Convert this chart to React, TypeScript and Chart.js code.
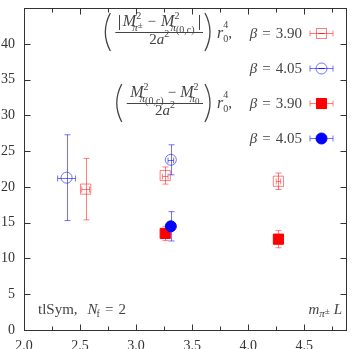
import React, { useEffect, useRef } from "react";
import { Chart, registerables } from "chart.js";
Chart.register(...registerables);

// ---- data ----
const X_MIN = 2.0;
const X_MAX = 4.88;
const Y_MIN = 0;
const Y_MAX = 45;
const xTickValues = [2.0, 2.5, 3.0, 3.5, 4.0, 4.5];
const xMinorValues = [2.25, 2.75, 3.25, 3.75, 4.25, 4.75];
const yTickValues = [0, 5, 10, 15, 20, 25, 30, 35, 40];

// charged - neutral (0,c), beta = 3.90
const chg390X = [2.55, 3.26, 4.27];
const chg390Y = [19.7, 21.6, 20.8];
const chg390YErr = [4.3, 1.2, 1.15];
const chg390XErr = [0.035, 0.025, 0.02];
// beta = 4.05
const chg405X = [2.38, 3.31];
const chg405Y = [21.3, 23.8];
const chg405YErr = [6.0, 2.1];
const chg405XErr = [0.08, 0.025];
// (0,c) - pi0, beta = 3.90
const neu390X = [3.26, 4.27];
const neu390Y = [13.5, 12.7];
const neu390YErr = [1.0, 1.2];
const neu390XErr = [0.02, 0.02];
// beta = 4.05
const neu405X = [3.31];
const neu405Y = [14.5];
const neu405YErr = [2.05];
const neu405XErr = [0.02];

const legendBetas = ["3.90", "4.05", "3.90", "4.05"];

// ---- styles ----
const SERIF = "'Liberation Serif','Times New Roman',serif";
const TEXT = "#333333";
const LEG = "#444444";
const RED = "#ff0000";
const RED_L = "rgba(255,0,0,0.5)";
const BLUE = "#0000ff";
const BLUE_L = "rgba(0,0,255,0.55)";

type Series = {
  x: number[]; y: number[]; xe: number[]; ye: number[];
  shape: "rect" | "circle"; filled: boolean; color: string; bar: string;
};
const series: Series[] = [
  { x: chg390X, y: chg390Y, xe: chg390XErr, ye: chg390YErr, shape: "rect", filled: false, color: RED_L, bar: RED_L },
  { x: chg405X, y: chg405Y, xe: chg405XErr, ye: chg405YErr, shape: "circle", filled: false, color: BLUE_L, bar: BLUE_L },
  { x: neu390X, y: neu390Y, xe: neu390XErr, ye: neu390YErr, shape: "rect", filled: true, color: RED, bar: RED_L },
  { x: neu405X, y: neu405Y, xe: neu405XErr, ye: neu405YErr, shape: "circle", filled: true, color: BLUE, bar: BLUE_L },
];

function font(size: number, italic = false) {
  return `${italic ? "italic " : ""}${size}px ${SERIF}`;
}

type SubRun = [string, number, boolean, number];

class Pen {
  ctx: CanvasRenderingContext2D; x: number; base: number; draw: boolean;
  constructor(ctx: CanvasRenderingContext2D, x: number, base: number, draw: boolean) {
    this.ctx = ctx; this.x = x; this.base = base; this.draw = draw;
  }
  text(t: string, size: number, italic = false, dy = 0) {
    this.ctx.font = font(size, italic);
    if (this.draw) this.ctx.fillText(t, this.x, this.base + dy);
    this.x += this.ctx.measureText(t).width;
    return this;
  }
  gap(g: number) { this.x += g; return this; }
  scr(sup: [string, number] | null, sub: SubRun[] | null, supDy = -7, subDy = 5, subShift = 0) {
    const x0 = this.x;
    let supEnd = x0, subEnd = x0;
    if (sup) {
      this.ctx.font = font(sup[1]);
      if (this.draw) this.ctx.fillText(sup[0], x0, this.base + supDy);
      supEnd = x0 + this.ctx.measureText(sup[0]).width;
    }
    if (sub) {
      let sx = x0 + subShift;
      for (const [t, s, it, dy] of sub) {
        this.ctx.font = font(s, it);
        if (this.draw) this.ctx.fillText(t, sx, this.base + subDy + dy);
        sx += this.ctx.measureText(t).width;
      }
      subEnd = sx;
    }
    this.x = Math.max(supEnd, subEnd);
    return this;
  }
  bar(top: number, bottom: number) {
    if (this.draw) {
      const c = this.ctx;
      c.beginPath();
      c.moveTo(Math.round(this.x) + 0.5, this.base + top);
      c.lineTo(Math.round(this.x) + 0.5, this.base + bottom);
      c.stroke();
    }
    this.x += 1;
    return this;
  }
}

function measureWith(ctx: CanvasRenderingContext2D, fn: (p: Pen) => void) {
  const p = new Pen(ctx, 0, 0, false);
  fn(p);
  return p.x;
}

function leftParen(ctx: CanvasRenderingContext2D, x: number, cy: number, h: number) {
  ctx.beginPath();
  ctx.moveTo(x + 6, cy - h);
  ctx.quadraticCurveTo(x - 4, cy, x + 6, cy + h);
  ctx.stroke();
}
function rightParen(ctx: CanvasRenderingContext2D, x: number, cy: number, h: number) {
  ctx.beginPath();
  ctx.moveTo(x, cy - h);
  ctx.quadraticCurveTo(x + 10, cy, x, cy + h);
  ctx.stroke();
}

const denom = (p: Pen) => { p.text("2", 15).text("a", 15, true).scr(["2", 10], null, -7); };

function drawFraction(
  ctx: CanvasRenderingContext2D, lineRight: number, lineY: number,
  numer: (p: Pen) => void, rowBase: number
) {
  const nw = measureWith(ctx, numer);
  const dw = measureWith(ctx, denom);
  const lw = Math.max(nw, dw) + 7;
  const l = lineRight - lw, r = lineRight;
  const cx = (l + r) / 2;
  ctx.strokeStyle = LEG; ctx.fillStyle = LEG; ctx.lineWidth = 1;
  numer(new Pen(ctx, cx - nw / 2, lineY - 6, true));
  denom(new Pen(ctx, cx - dw / 2, lineY + 12, true));
  ctx.beginPath();
  ctx.moveTo(l, lineY + 0.5); ctx.lineTo(r, lineY + 0.5);
  ctx.stroke();
  ctx.lineWidth = 1.3;
  leftParen(ctx, l - 11, lineY, 19);
  rightParen(ctx, r + 2, lineY, 19);
  ctx.lineWidth = 1;
  const rp = new Pen(ctx, r + 14, rowBase, true);
  rp.text("r", 16, true).scr(["4", 10], [["0", 10, false, 0]], -10, 4).text(",", 15);
}

function drawErr(ctx: CanvasRenderingContext2D, px: number, py: number, x1: number, x2: number, y1: number, y2: number, color: string) {
  ctx.strokeStyle = color; ctx.lineWidth = 1;
  ctx.beginPath();
  ctx.moveTo(px, y1); ctx.lineTo(px, y2);
  ctx.moveTo(px - 3, y1); ctx.lineTo(px + 3, y1);
  ctx.moveTo(px - 3, y2); ctx.lineTo(px + 3, y2);
  if (x2 - x1 > 0.5) {
    ctx.moveTo(x1, py); ctx.lineTo(x2, py);
    ctx.moveTo(x1, py - 3); ctx.lineTo(x1, py + 3);
    ctx.moveTo(x2, py - 3); ctx.lineTo(x2, py + 3);
  }
  ctx.stroke();
}

const decor = {
  id: "decor",
  beforeDatasetsDraw(chart: any) {
    const ctx: CanvasRenderingContext2D = chart.ctx;
    const xs = chart.scales.x, ys = chart.scales.y;
    ctx.save();
    for (const s of series) {
      for (let i = 0; i < s.x.length; i++) {
        const px = Math.round(xs.getPixelForValue(s.x[i])) + 0.5;
        const py = Math.round(ys.getPixelForValue(s.y[i])) + 0.5;
        drawErr(
          ctx, px, py,
          xs.getPixelForValue(s.x[i] - s.xe[i]), xs.getPixelForValue(s.x[i] + s.xe[i]),
          ys.getPixelForValue(s.y[i] + s.ye[i]), ys.getPixelForValue(s.y[i] - s.ye[i]),
          s.bar
        );
      }
    }
    ctx.restore();
  },
  afterDraw(chart: any) {
    const ctx: CanvasRenderingContext2D = chart.ctx;
    const a = chart.chartArea;
    const xs = chart.scales.x, ys = chart.scales.y;
    ctx.save();
    // frame
    ctx.strokeStyle = TEXT; ctx.lineWidth = 1;
    const L = Math.round(a.left) + 0.5, R = Math.round(a.right) - 0.5;
    const T = Math.round(a.top) + 0.5, B = Math.round(a.bottom) + 0.5;
    ctx.strokeRect(L, T, R - L, B - T);
    ctx.beginPath();
    for (const v of xTickValues) {
      const p = Math.round(xs.getPixelForValue(v)) + 0.5;
      ctx.moveTo(p, B); ctx.lineTo(p, B - 6);
      ctx.moveTo(p, T); ctx.lineTo(p, T + 6);
    }
    for (const v of xMinorValues) {
      const p = Math.round(xs.getPixelForValue(v)) + 0.5;
      ctx.moveTo(p, B); ctx.lineTo(p, B - 4);
      ctx.moveTo(p, T); ctx.lineTo(p, T + 4);
    }
    for (const v of yTickValues) {
      const p = Math.round(ys.getPixelForValue(v)) + 0.5;
      ctx.moveTo(L, p); ctx.lineTo(L + 6, p);
      ctx.moveTo(R, p); ctx.lineTo(R - 6, p);
    }
    ctx.stroke();

    // legend
    ctx.fillStyle = LEG; ctx.strokeStyle = LEG; ctx.textBaseline = "alphabetic";
    const rowY = [33, 68, 103, 138];
    legendBetas.forEach((b, i) => {
      const base = rowY[i] + 5;
      const fn = (p: Pen) => { p.text("β", 15, true).gap(5).text("=", 15).gap(5).text(b, 15); };
      const w = measureWith(ctx, fn);
      ctx.fillStyle = LEG;
      fn(new Pen(ctx, 302 - w, base, true));
      // marker
      const s = series[i];
      const mx = 321.5, my = rowY[i] + 0.5;
      drawErr(ctx, mx, my, 310, 333, my, my, s.bar);
      ctx.lineWidth = 1;
      if (s.shape === "rect") {
        if (s.filled) { ctx.fillStyle = s.color; ctx.fillRect(mx - 5, my - 5, 10, 10); }
        ctx.strokeStyle = s.color; ctx.strokeRect(mx - 5, my - 5, 10, 10);
      } else {
        ctx.beginPath(); ctx.arc(mx, my, 5.5, 0, Math.PI * 2);
        if (s.filled) { ctx.fillStyle = s.color; ctx.fill(); }
        ctx.strokeStyle = s.color; ctx.stroke();
      }
    });

    // fraction 1: |M^2_{pi±} - M^2_{pi(0,c)}| / 2a^2
    drawFraction(ctx, 203, 32, (p) => {
      p.bar(-11, 4).gap(3)
        .text("M", 16, true).scr(["2", 10], [["π", 11, true, 0], ["±", 9, false, -3]], -7, 5, -4)
        .gap(5).text("−", 15).gap(5)
        .text("M", 16, true).scr(["2", 10], [["π", 11, true, 0], ["(0,c)", 10, false, 2]], -7, 5, -4)
        .gap(4).bar(-11, 4);
    }, 38);
    // fraction 2: (M^2_{pi(0,c)} - M^2_{pi0}) / 2a^2
    drawFraction(ctx, 203, 103, (p) => {
      p.text("M", 16, true).scr(["2", 10], [["π", 11, true, 0], ["(0,c)", 10, false, 2]], -7, 5, -4)
        .gap(4).text("−", 15).gap(4)
        .text("M", 16, true).scr(["2", 10], [["π", 11, true, 0], ["0", 9, false, 2]], -7, 5, -4);
    }, 108);

    // bottom annotations
    ctx.fillStyle = LEG;
    const bp = new Pen(ctx, 38, 314, true);
    bp.text("tlSym,", 15).gap(10).text("N", 15, true).scr(null, [["f", 10, false, 0]], 0, 3, -1).gap(5).text("=", 15).gap(5).text("2", 15);
    const mfn = (p: Pen) => {
      p.text("m", 15, true).scr(null, [["π", 11, true, 0], ["±", 9, false, -3]], 0, 3).gap(4).text("L", 15, true);
    };
    const mw = measureWith(ctx, mfn);
    mfn(new Pen(ctx, 342 - mw, 314, true));
    ctx.restore();
  },
};

function toPts(xs: number[], ys: number[]) {
  return xs.map((x, i) => ({ x, y: ys[i] }));
}

export default function App() {
  const ref = useRef<HTMLCanvasElement>(null);
  useEffect(() => {
    const zeroPad = (s: any) => { s.paddingTop = 0; s.paddingBottom = 0; s.paddingLeft = 0; s.paddingRight = 0; };
    const chart = new Chart(ref.current!, {
      type: "scatter",
      data: {
        datasets: series.map((s, i) => ({
          data: toPts(s.x, s.y),
          pointStyle: s.shape,
          pointRadius: s.shape === "rect" ? 7.2 : 5.5,
          pointBorderWidth: 1,
          borderColor: s.color,
          backgroundColor: s.filled ? s.color : "rgba(0,0,0,0)",
          pointBackgroundColor: s.filled ? s.color : "rgba(0,0,0,0)",
          pointBorderColor: s.color,
          order: 4 - i,
        })),
      },
      options: {
        responsive: false,
        animation: false,
        events: [],
        layout: { padding: { left: 0, right: 2, top: 0, bottom: 0 } },
        plugins: { legend: { display: false }, tooltip: { enabled: false } },
        scales: {
          x: {
            type: "linear", min: X_MIN, max: X_MAX,
            grid: { display: false, drawTicks: false },
            border: { display: false },
            afterBuildTicks: (s: any) => { s.ticks = xTickValues.map((v) => ({ value: v })); },
            afterFit: (s: any) => { s.height = 19; zeroPad(s); },
            ticks: {
              padding: 8, maxRotation: 0, autoSkip: false, color: TEXT,
              font: { family: SERIF, size: 14 },
              callback: (v: any) => Number(v).toFixed(1),
            },
          },
          y: {
            type: "linear", min: Y_MIN, max: Y_MAX,
            grid: { display: false, drawTicks: false },
            border: { display: false },
            afterBuildTicks: (s: any) => { s.ticks = yTickValues.map((v) => ({ value: v })); },
            afterFit: (s: any) => { s.width = 24; zeroPad(s); },
            ticks: {
              padding: 9, autoSkip: false, color: TEXT,
              font: { family: SERIF, size: 14 },
              callback: (v: any) => String(v),
            },
          },
        },
      },
      plugins: [decor],
    } as any);
    return () => chart.destroy();
  }, []);
  return (
    <div style={{ position: "fixed", left: 0, top: 0, width: 355, height: 349, background: "#fff" }}>
      <canvas ref={ref} width={355} height={349} style={{ display: "block" }} />
    </div>
  );
}
